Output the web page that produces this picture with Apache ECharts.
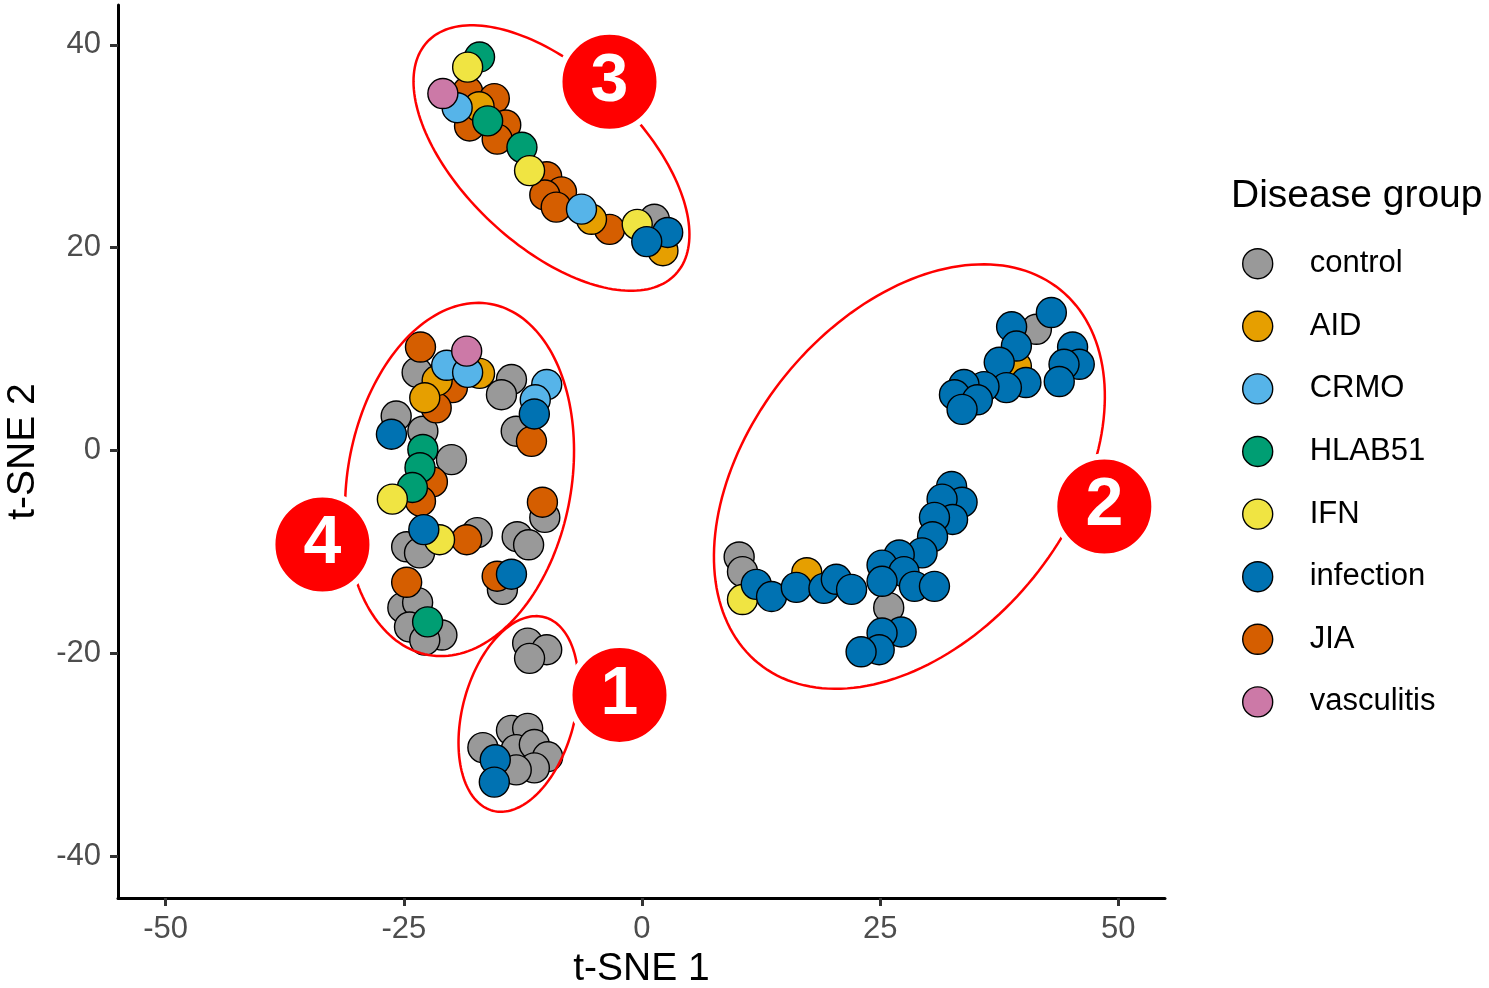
<!DOCTYPE html>
<html><head><meta charset="utf-8">
<script src="https://cdn.jsdelivr.net/npm/echarts@6/dist/echarts.min.js"></script>
<style>html,body{margin:0;padding:0;background:#fff}#c{width:1489px;height:988px}</style>
</head><body><div id="c"></div>
<script>
// ---- data (t-SNE coordinates) ----
const groups = ['control','AID','CRMO','HLAB51','IFN','infection','JIA','vasculitis'];
const groupColors = ['#999999','#E69F00','#56B4E9','#009E73','#F0E442','#0072B2','#D55E00','#CC79A7'];

const control = [
  [1.3,22.8],
  [-23.6,7.7],[-13.7,7.0],[-14.75,5.5],[-13.2,1.9],[-25.8,3.4],[-23.0,1.9],[-20.0,-0.9],[-10.2,-6.6],
  [-24.7,-9.5],[-23.35,-10.1],[-17.3,-8.1],[-13.1,-8.5],[-11.9,-9.3],[-14.65,-13.7],[-25.1,-15.5],
  [-23.55,-15.0],[-24.4,-17.4],[-21.0,-18.2],[-22.8,-18.7],
  [-12.0,-19.0],[-10.0,-19.65],[-11.8,-20.5],[-16.7,-29.3],[-13.7,-27.6],[-12.0,-27.4],[-13.2,-29.5],
  [-11.3,-29.0],[-9.9,-30.2],[-11.3,-31.3],[-13.2,-31.5],
  [41.4,11.95],[25.9,-15.5],[10.2,-10.5],[10.55,-11.95]
];
const AID = [[-17.1,33.9],[-5.3,22.8],[2.2,19.7],[-17.05,7.6],[-21.5,6.9],[-22.8,5.2],[39.3,8.3],[17.3,-12.05]];
const CRMO = [[-19.4,33.8],[-6.35,23.8],[-20.5,8.4],[-18.3,7.7],[-10.0,6.5],[-11.2,5.0]];
const HLAB51 = [[-17.05,38.8],[-16.2,32.5],[-12.6,29.9],[-23.0,0.1],[-23.3,-1.7],[-24.1,-3.65],[-22.5,-16.9]];
const IFN = [[-18.3,37.8],[-11.8,27.6],[-0.5,22.3],[-26.2,-4.8],[-21.25,-8.8],[10.55,-14.7]];
const infection = [
  [2.7,21.5],[0.5,20.6],
  [-11.3,3.6],[-26.3,1.6],[-22.9,-7.8],[-13.7,-12.2],
  [-15.4,-30.5],[-15.5,-32.7],
  [42.97,13.6],[38.8,12.2],[39.3,10.3],[45.2,10.2],[45.9,8.5],[44.3,8.5],[43.8,6.8],[37.5,8.7],
  [40.3,6.7],[38.25,6.2],[35.9,6.3],[33.8,6.5],[32.8,5.5],[35.2,5.0],[33.6,4.05],
  [32.5,-3.55],[33.6,-5.1],[31.5,-4.8],[32.6,-6.8],[30.7,-6.6],[30.5,-8.5],[29.4,-10.1],[27.0,-10.3],
  [25.2,-11.3],[27.5,-11.95],[25.2,-12.9],[28.6,-13.4],[30.7,-13.4],[27.2,-17.9],[25.2,-18.0],
  [24.9,-19.65],[23.0,-19.85],
  [12.0,-13.2],[13.6,-14.4],[16.2,-13.5],[19.1,-13.6],[20.4,-12.7],[22.0,-13.7]
];
const JIA = [
  [-18.3,35.4],[-15.5,34.7],[-18.1,32.0],[-14.3,32.1],[-15.2,30.7],[-10.0,27.0],[-8.45,25.5],
  [-10.2,25.2],[-9.0,24.0],[-3.4,21.8],
  [-23.25,10.2],[-19.9,6.2],[-21.6,4.2],[-11.6,0.9],[-22.0,-3.1],[-23.25,-5.0],[-10.45,-5.1],
  [-18.4,-8.8],[-15.2,-12.4],[-24.7,-13.0]
];
const vasculitis = [[-20.9,35.2],[-18.4,9.8]];
const groupData = [control, AID, CRMO, HLAB51, IFN, infection, JIA, vasculitis];
// drawing order of the groups (later groups are drawn on top)
const drawOrder = ['control','JIA','AID','HLAB51','IFN','CRMO','infection','vasculitis'];

const xTicks = [-50,-25,0,25,50];
const yTicks = [-40,-20,0,20,40];

// cluster ellipses: centre (x,y) and two conjugate half-axis vectors, in data units
const ellipseCentres = [[-12.96,-25.98],[28.07,-2.57],[-9.5,28.84],[-19.15,-2.86]];
const ellipseAxisU = [[2.72,9.54],[15.84,18.42],[13.04,-11.45],[3.25,17.31]];
const ellipseAxisV = [[5.68,-1.43],[13.04,-9.94],[-6.30,-6.35],[11.57,-1.93]];
// numbered cluster badges
const badgeLabels = ['1','2','3','4'];
const badgePos = [[-2.36,-24.1],[48.53,-5.53],[-3.41,36.35],[-33.54,-9.28]];

// ---- chart ----
const FONT = 'Liberation Sans, Arial, sans-serif';
const chart = echarts.init(document.getElementById('c'), null, {renderer:'canvas'});

const series = groups.map((g,i)=>({
  name: g, type:'scatter', data: groupData[i], symbol:'circle', symbolSize:30,
  itemStyle:{color:groupColors[i], borderColor:'#000', borderWidth:1.4, opacity:1},
  emphasis:{disabled:true}, z:2
}));
// apply drawing order via z
series.forEach(s=>{ s.z = 2 + drawOrder.indexOf(s.name)*0.01; });

series.push({
  type:'custom', name:'ellipses', silent:true, z:3,
  data: ellipseCentres.map((c,i)=>[c[0],c[1],ellipseAxisU[i][0],ellipseAxisU[i][1],ellipseAxisV[i][0],ellipseAxisV[i][1]]),
  encode:{x:0,y:1},
  renderItem:function(params, api){
    const cx=api.value(0), cy=api.value(1), ux=api.value(2), uy=api.value(3), vx=api.value(4), vy=api.value(5);
    const pts=[];
    for(let k=0;k<=180;k++){
      const t=k/180*Math.PI*2;
      pts.push(api.coord([cx+ux*Math.cos(t)+vx*Math.sin(t), cy+uy*Math.cos(t)+vy*Math.sin(t)]));
    }
    return {type:'polygon', shape:{points:pts}, style:{fill:'none', stroke:'#ff0000', lineWidth:2.5}};
  }
});

series.push({
  type:'scatter', name:'badges', silent:true, z:4,
  data: badgePos.map((p,i)=>[p[0],p[1],badgeLabels[i]]),
  symbol:'circle', symbolSize:100,
  itemStyle:{color:'#ff0000', borderColor:'#ffffff', borderWidth:6, opacity:1},
  label:{show:true, position:'inside', formatter:(p)=>p.value[2], color:'#ffffff',
         fontSize:68, fontWeight:'bold', fontFamily:FONT},
  emphasis:{disabled:true}
});

chart.setOption({
  animation:false,
  backgroundColor:'#ffffff',
  title:{text:'Disease group', left:1226, top:172,
         textStyle:{fontSize:39, fontWeight:'normal', color:'#000', fontFamily:FONT}},
  legend:{data:groups, orient:'vertical', left:1237, top:243, icon:'circle',
          itemWidth:30, itemHeight:30, itemGap:31.2, selectedMode:false,
          itemStyle:{borderColor:'#000', borderWidth:1.4},
          textStyle:{fontSize:31, color:'#000', fontFamily:FONT, padding:[0,0,0,32]}},
  grid:{left:118, right:324, top:5, bottom:90, containLabel:false, outerBoundsMode:'none'},
  xAxis:{type:'value', min:-55.0, max:54.9, splitLine:{show:false},
         name:'t-SNE 1', nameLocation:'middle', nameGap:52,
         nameTextStyle:{fontSize:39, color:'#000', fontFamily:FONT},
         axisLine:{show:true, onZero:false, lineStyle:{color:'#000', width:3}},
         axisTick:{show:true, length:8, lineStyle:{color:'#333', width:3}, customValues:xTicks},
         axisLabel:{fontSize:31, color:'#4d4d4d', fontFamily:FONT, margin:16, customValues:xTicks}},
  yAxis:{type:'value', min:-44.13, max:43.93, splitLine:{show:false},
         name:'t-SNE 2', nameLocation:'middle', nameGap:75,
         nameTextStyle:{fontSize:39, color:'#000', fontFamily:FONT},
         axisLine:{show:true, onZero:false, lineStyle:{color:'#000', width:3}},
         axisTick:{show:true, length:8, lineStyle:{color:'#333', width:3}, customValues:yTicks},
         axisLabel:{fontSize:31, color:'#4d4d4d', fontFamily:FONT, margin:17, customValues:yTicks}},
  series:series
});
</script>
</body></html>
